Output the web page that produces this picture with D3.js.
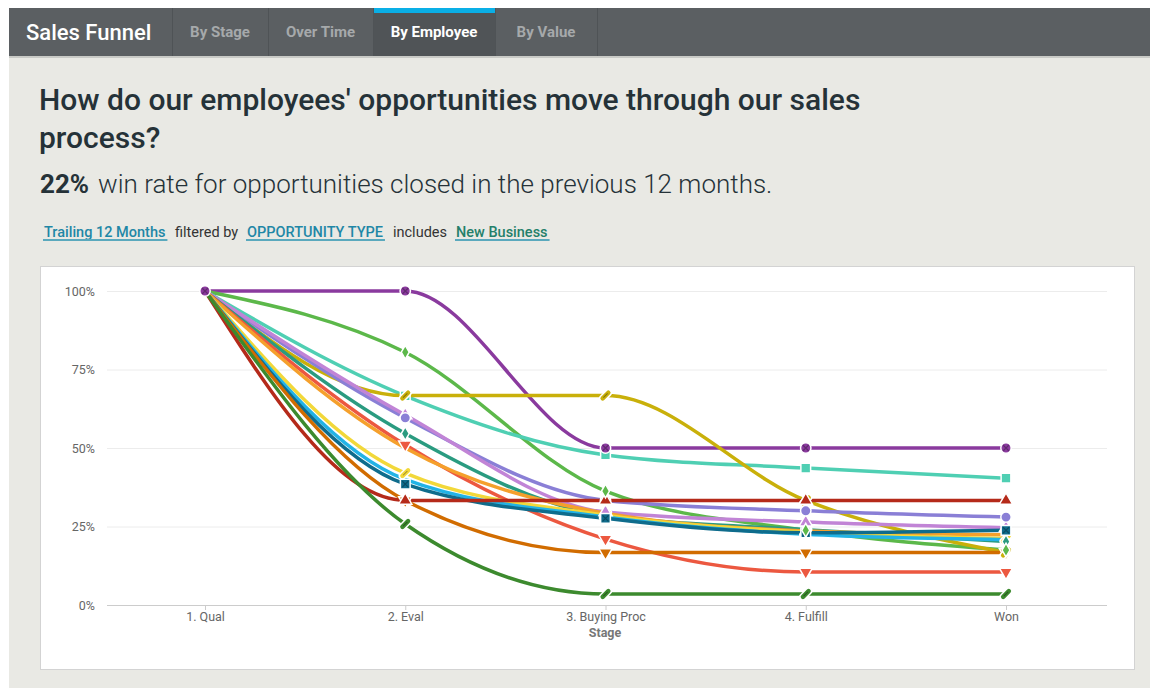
<!DOCTYPE html>
<html><head><meta charset="utf-8">
<script src="https://cdn.jsdelivr.net/npm/d3@7"></script>
<style>
body{margin:0;background:#fff;font-family:Roboto,"Open Sans",sans-serif;}
svg{display:block;}
</style></head>
<body><svg id="c" width="1153" height="688"></svg>
<script>
const stages = ["1. Qual","2. Eval","3. Buying Proc","4. Fulfill","Won"];
const yTicks = [0,25,50,75,100];
const tabs = ["By Stage","Over Time","By Employee","By Value"];
const seriesNames = ["Emp 1","Emp 2","Emp 3","Emp 4","Emp 5","Emp 6","Emp 7","Emp 8","Emp 9","Emp 10","Emp 11","Emp 12","Emp 13","Emp 14","Emp 15"];
const seriesColors = ["#8a3a9e","#5cb84a","#4fcfb3","#c9b00a","#8a7fd6","#c184d6","#2a9b80","#ec5840","#f5a02c","#f2d83a","#22b3e6","#0f6c8c","#b52a1a","#d16c00","#3c8a2e"];
const seriesMarkers = ["circleX","diamond","square","pill","circle","triangle","diamond","triangleDown","none","pill","none","squareX","triangle","triangleDown","pill"];
const v1 = [100,100,50,50,50];
const v2 = [100,80.5,36.3,23.8,17.5];
const v3 = [100,66.6,47.8,43.6,40.4];
const v4 = [100,66.7,66.7,33.3,16.7];
const v5 = [100,59.6,33.3,30,28];
const v6 = [100,60.5,29.6,26.4,24.6];
const v7 = [100,54.6,28.5,24,20.2];
const v8 = [100,51,21,10.5,10.5];
const v9 = [100,50,29.2,23.6,22.4];
const v10 = [100,42,28.6,23.2,21.2];
const v11 = [100,40,28,22.5,20.8];
const v12 = [100,38.5,27.6,23,23.8];
const v13 = [100,33.3,33.3,33.3,33.3];
const v14 = [100,33.3,16.7,16.7,16.7];
const v15 = [100,25.8,3.5,3.5,3.5];
const seriesValues = [v1,v2,v3,v4,v5,v6,v7,v8,v9,v10,v11,v12,v13,v14,v15];

const svg = d3.select("#c");
svg.append("rect").attr("x",9).attr("y",8).attr("width",1141).attr("height",680).attr("fill","#e9e9e4");
const hdr = svg.append("g");
hdr.append("rect").attr("x",9).attr("y",8).attr("width",1141).attr("height",48).attr("fill","#5b5f62");
hdr.append("rect").attr("x",9).attr("y",56).attr("width",1141).attr("height",2).attr("fill","#c9cac6");
hdr.append("text").attr("x",26).attr("y",40).attr("fill","#fff").attr("font-size",22).attr("font-weight",500).text("Sales Funnel");
const tabX = [172,268,373,495,597];
tabs.forEach((t,i)=>{
  const active = i===2;
  if(active){
    hdr.append("rect").attr("x",tabX[i]).attr("y",8).attr("width",tabX[i+1]-tabX[i]).attr("height",48).attr("fill","#505457");
    hdr.append("rect").attr("x",tabX[i]).attr("y",8).attr("width",tabX[i+1]-tabX[i]).attr("height",5).attr("fill","#0aafe6");
  }
  hdr.append("line").attr("x1",tabX[i]+0.5).attr("x2",tabX[i]+0.5).attr("y1",8).attr("y2",56).attr("stroke","#4f5356");
  hdr.append("text").attr("x",(tabX[i]+tabX[i+1])/2).attr("y",37).attr("text-anchor","middle")
    .attr("fill",active?"#fff":"#a6a9ab").attr("font-size",15).attr("font-weight",700).text(t);
});
hdr.append("line").attr("x1",597.5).attr("x2",597.5).attr("y1",8).attr("y2",56).attr("stroke","#4f5356");

svg.append("text").attr("x",39).attr("y",110).attr("fill","#253238").attr("font-size",30).attr("font-weight",500).text("How do our employees' opportunities move through our sales");
svg.append("text").attr("x",39).attr("y",148).attr("fill","#253238").attr("font-size",30).attr("font-weight",500).text("process?");
const sub = svg.append("text").attr("x",40).attr("y",193).attr("fill","#253238").attr("font-size",26);
sub.append("tspan").attr("font-weight",700).text("22%");
sub.append("tspan").attr("font-weight",300).attr("dx",9).text("win rate for opportunities closed in the previous 12 months.");

const fl = svg.append("g").attr("font-size",14.5);
const parts = [
  {t:"Trailing 12 Months",x:44,c:"#1f87a6",u:true,w:500},
  {t:"filtered by",x:175,c:"#333",u:false,w:400},
  {t:"OPPORTUNITY TYPE",x:247,c:"#1f87a6",u:true,w:500},
  {t:"includes",x:393,c:"#333",u:false,w:400},
  {t:"New Business",x:456,c:"#24806a",u:true,w:500}
];
parts.forEach(p=>{
  const tx = fl.append("text").attr("x",p.x).attr("y",237).attr("fill",p.c).attr("font-weight",p.w).text(p.t);
  if(p.u){
    const w = tx.node().getComputedTextLength();
    fl.append("rect").attr("x",p.x-1).attr("y",239).attr("width",w+3).attr("height",2).attr("fill","#5aa9bd");
  }
});

svg.append("rect").attr("x",40.5).attr("y",266.5).attr("width",1094).attr("height",403).attr("fill","#fff").attr("stroke","#d3d3d3");

const x = d3.scalePoint().domain(stages).range([205,1006]);
const y = d3.scaleLinear().domain([0,100]).range([605,291]);

const g = svg.append("g");
g.selectAll("line.grid").data(yTicks.filter(d=>d>0)).join("line")
  .attr("x1",107).attr("x2",1107).attr("y1",d=>y(d)+0.5).attr("y2",d=>y(d)+0.5).attr("stroke","#ececec");
const yAxis = g.append("g").attr("transform","translate(107,0)")
  .call(d3.axisLeft(y).tickValues(yTicks).tickFormat(d=>d+"%").tickSize(0).tickPadding(12));
yAxis.select(".domain").remove();
yAxis.selectAll("text").attr("fill","#666").attr("font-size",12.5).attr("font-family","Roboto,sans-serif");
const xAxis = g.append("g").attr("transform","translate(0,605)")
  .call(d3.axisBottom(x).tickSize(5).tickPadding(2));
xAxis.select(".domain").attr("d","M107,0.5H1107").attr("stroke","#cccccc");
xAxis.selectAll(".tick line").attr("stroke","#cccccc");
xAxis.selectAll("text").attr("fill","#666").attr("font-size",12.5).attr("font-family","Roboto,sans-serif");
g.append("text").attr("x",605).attr("y",637).attr("text-anchor","middle").attr("fill","#777").attr("font-size",12.5).attr("font-weight",700).text("Stage");

const line = d3.line().x((d,i)=>x(stages[i])).y(d=>y(d)).curve(d3.curveMonotoneX);
const lines = svg.append("g");
seriesValues.forEach((vals,si)=>{
  lines.append("path").attr("d",line(vals)).attr("fill","none").attr("stroke",seriesColors[si]).attr("stroke-width",3.5);
});

function markerPath(type){
  switch(type){
    case "circle": case "circleX": return d3.symbol(d3.symbolCircle,85)();
    case "diamond": return d3.symbol(d3.symbolDiamond,55)();
    case "square": case "squareX": return d3.symbol(d3.symbolSquare,95)();
    case "triangle": return d3.symbol(d3.symbolTriangle,75)();
    case "triangleDown": return d3.symbol(d3.symbolTriangle,75)();
    case "pill": return "M-4,-3H4A3,3 0 0 1 4,3H-4A3,3 0 0 1 -4,-3Z";
  }
  return null;
}
const marks = svg.append("g");
const order = [14,13,10,9,8,7,6,5,11,2,3,4,12,1,0];
order.forEach(si=>{
  const vals = seriesValues[si];
  const type = seriesMarkers[si];
  if(type==="none") return;
  const p = markerPath(type);
  vals.forEach((v,i)=>{
    if(i===0 && si!==0) return;
    let rot = 0;
    if(type==="triangleDown") rot = 180;
    if(type==="pill") rot = -45;
    const mg = marks.append("g").attr("transform",`translate(${x(stages[i])},${y(v)}) rotate(${rot})`);
    mg.append("path").attr("d",p).attr("fill",seriesColors[si]).attr("stroke","#fff").attr("stroke-width",1.5);
    if(type==="circleX"||type==="squareX"){
      mg.append("path").attr("d","M-3,-3L3,3M-3,3L3,-3").attr("stroke",d3.color(seriesColors[si]).darker(1)).attr("stroke-width",1.2);
    }
    if(type==="pill"){
      mg.append("path").attr("d","M-3,0H3").attr("stroke",d3.color(seriesColors[si]).darker(1.2)).attr("stroke-width",1);
    }
  });
});
</script></body></html>
